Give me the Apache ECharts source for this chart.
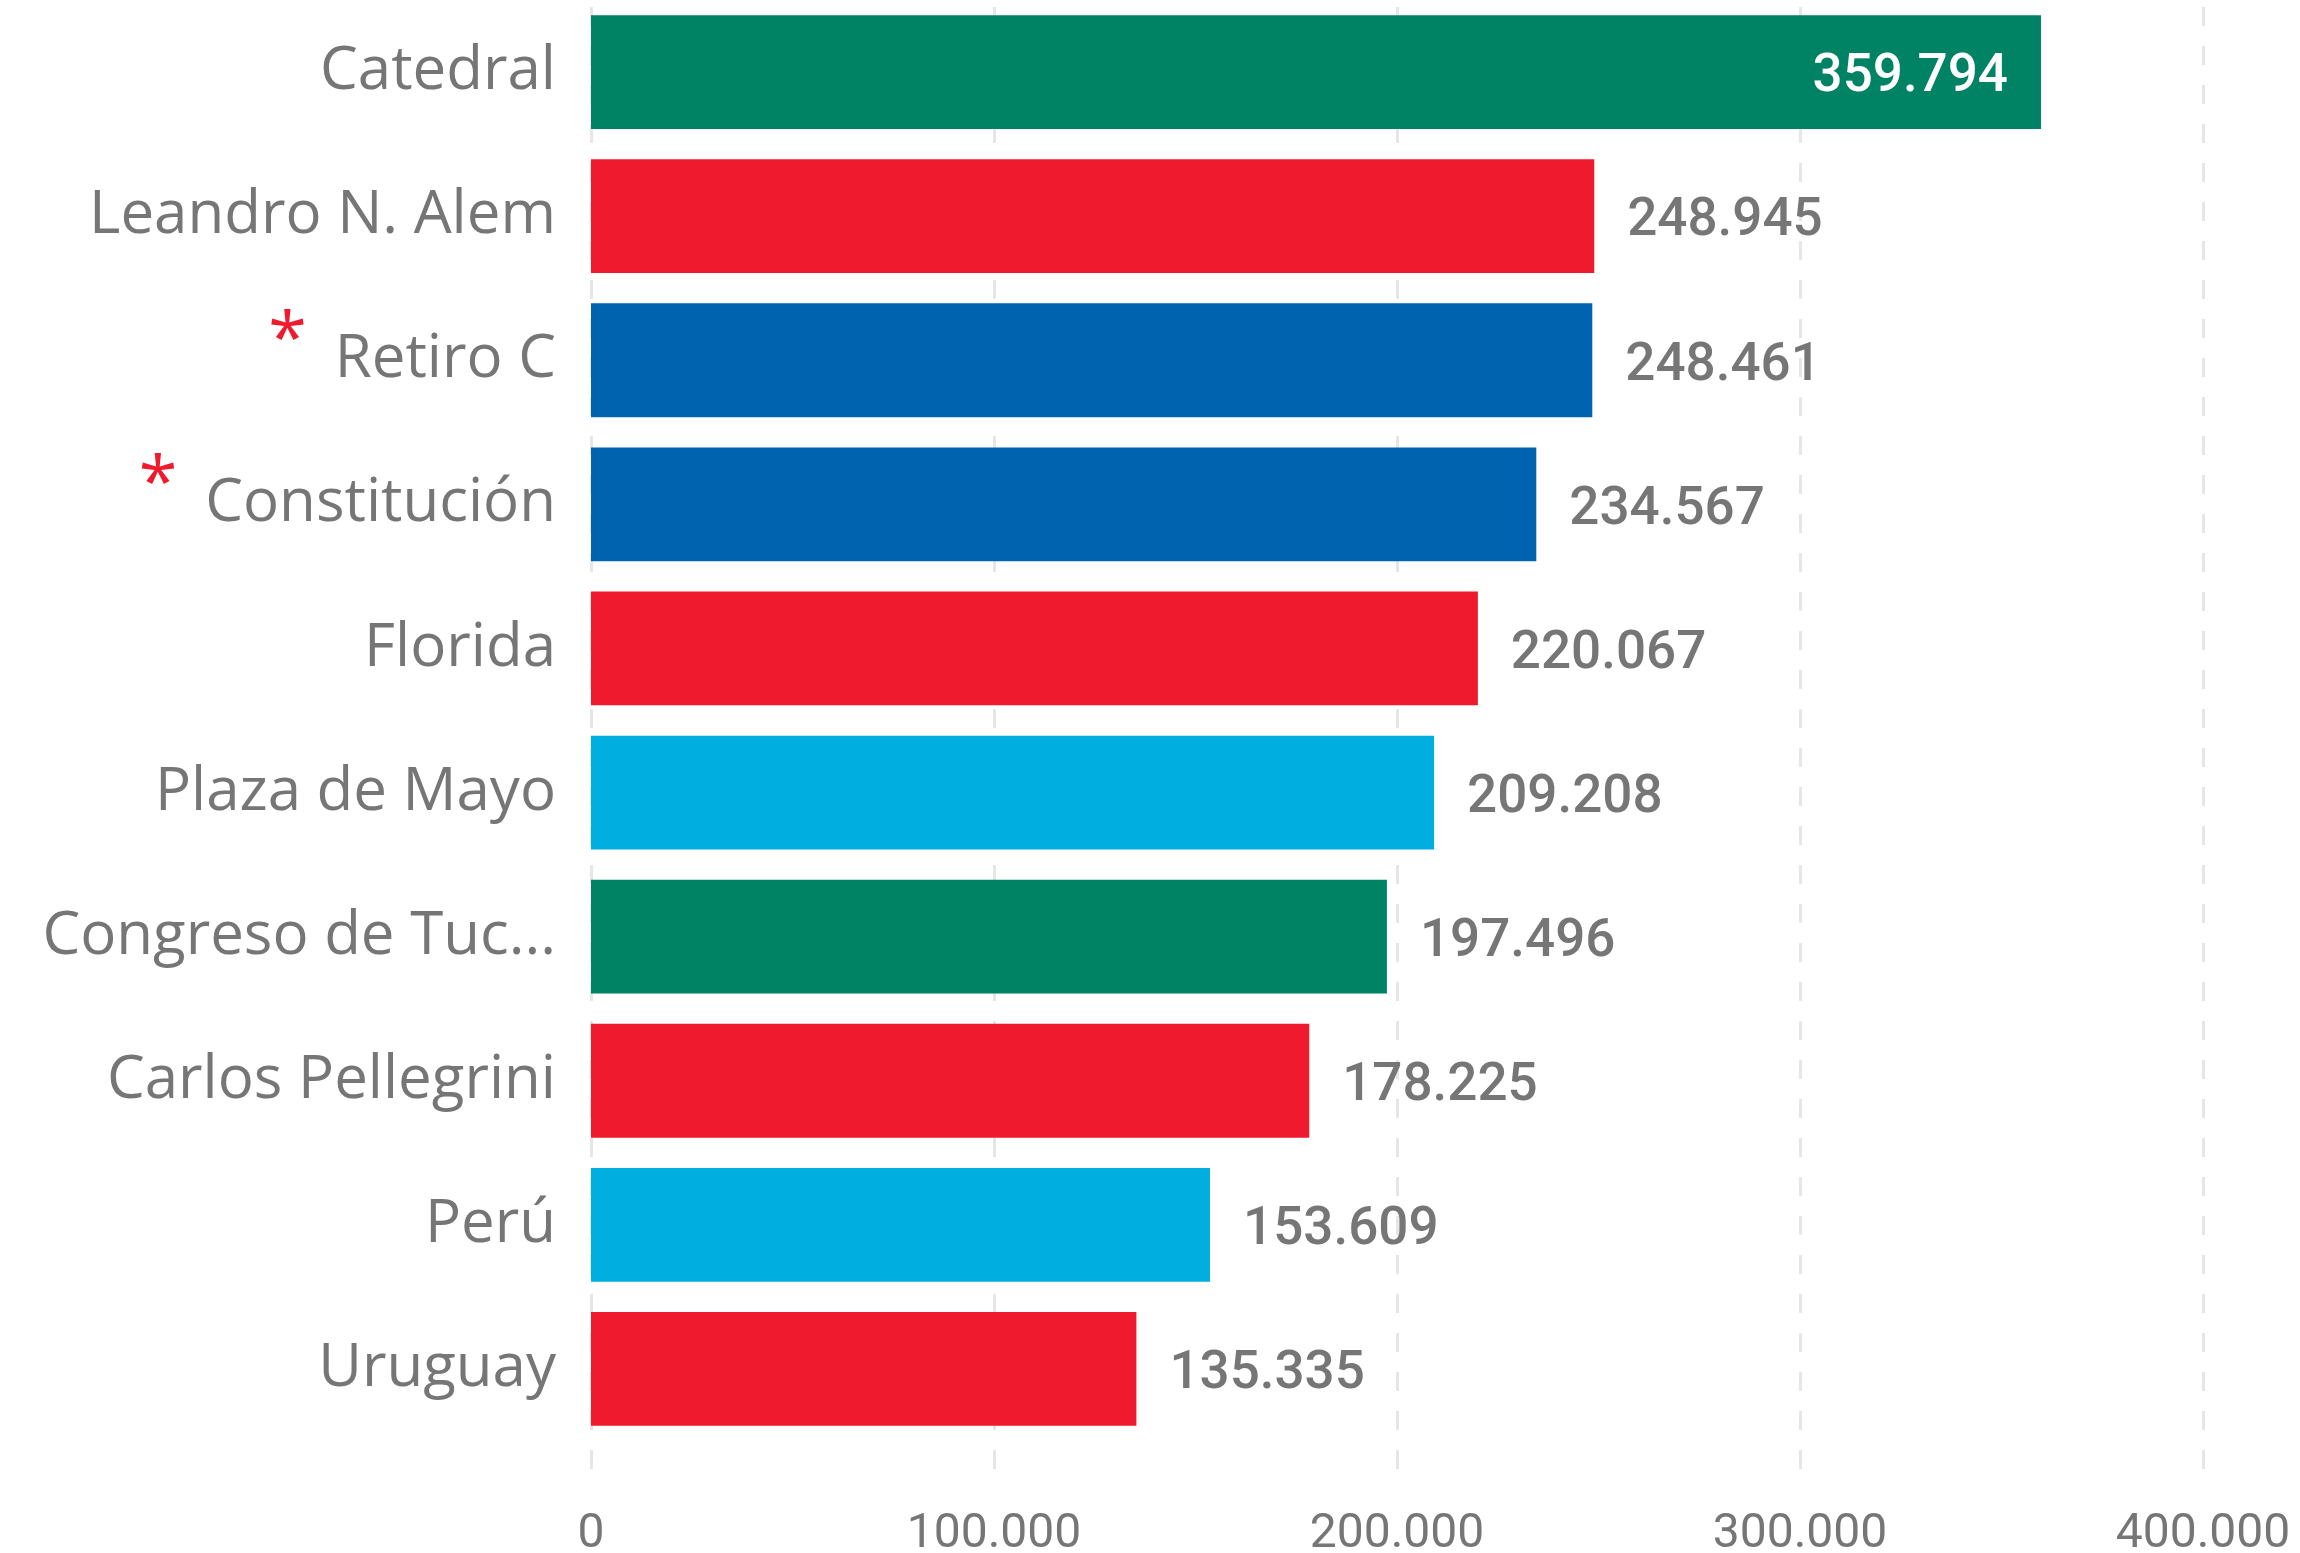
<!DOCTYPE html>
<html><head><meta charset="utf-8">
<script src="https://cdn.jsdelivr.net/npm/echarts@6/dist/echarts.min.js"></script>
<style>html,body{margin:0;padding:0;background:#fff}#c{width:2300px;height:1553px}</style>
</head><body><div id="c"></div>
<script>
const categories = ['Catedral','Leandro N. Alem','Retiro C','Constitución','Florida','Plaza de Mayo','Congreso de Tucumán','Carlos Pellegrini','Perú','Uruguay'];
const values = [359794,248945,248461,234567,220067,209208,197496,178225,153609,135335];
const lines = ['D','B','C','C','B','A','D','B','A','B'];
const marked = [false,false,true,true,false,false,false,false,false,false];
const xTicks = [0,100000,200000,300000,400000];

const lineColors = {A:'#00AEDF',B:'#EF1A2D',C:'#0063B0',D:'#008264'};
const GRAY = '#767676';
const numFont = 'Roboto, "DejaVu Sans Condensed", sans-serif';
const catFont = '"Open Sans", "Noto Sans", sans-serif';
function fmt(v){return String(v).replace(/\B(?=(\d{3})+(?!\d))/g,'.');}
function shortName(s){return s.length>17 ? s.slice(0,15)+'...' : s;}

const xMin = xTicks[0], xMax = xTicks[xTicks.length-1], xStep = xTicks[1]-xTicks[0];

const data = values.map((v,i)=>{
  const inside = v > xMax*0.85;
  return {
    value: v,
    itemStyle: {color: lineColors[lines[i]]},
    label: inside ? {position:'insideRight', color:'#ffffff', distance:33} : {position:'right', color:GRAY, distance:33}
  };
});

const chart = echarts.init(document.getElementById('c'), null, {renderer:'canvas'});
chart.setOption({
  animation:false,
  backgroundColor:'#ffffff',
  grid:[
    {left:591, right:97, top:0, height:1441, containLabel:false, outerBoundsMode:'none'},
    {left:591, right:97, top:7, height:1480, containLabel:false, outerBoundsMode:'none'}
  ],
  xAxis:[
    {gridIndex:0, type:'value', min:xMin, max:xMax, interval:xStep, axisLine:{show:false}, axisTick:{show:false}, axisLabel:{show:false}, splitLine:{show:false}},
    {gridIndex:1, type:'value', min:xMin, max:xMax, interval:xStep, axisLine:{show:false}, axisTick:{show:false},
     axisLabel:{show:true, margin:24, color:GRAY, fontFamily:numFont, fontSize:48, formatter:v=>fmt(v)},
     splitLine:{show:true, lineStyle:{color:'#e6e6e6', width:3, type:[19,20]}}}
  ],
  yAxis:[
    {gridIndex:0, type:'category', inverse:true, data:categories, axisLine:{show:false}, axisTick:{show:false}, splitLine:{show:false},
     axisLabel:{margin:35, formatter:(v,idx)=> (marked[idx] ? '{s|*}' : '') + '{n|'+shortName(v)+'}',
       rich:{
         n:{fontFamily:catFont, fontSize:60, color:GRAY},
         s:{fontFamily:catFont, fontSize:70, color:'#EF1A2D', padding:[0,28,36,0]}
       }}},
    {gridIndex:1, type:'value', show:false}
  ],
  series:[{
    type:'bar', xAxisIndex:0, yAxisIndex:0, data:data, barCategoryGap:'21%', z:3,
    label:{show:true, fontFamily:numFont, fontSize:53, fontWeight:500, offset:[0,6], formatter:p=>fmt(p.value)}
  }]
});
</script></body></html>
